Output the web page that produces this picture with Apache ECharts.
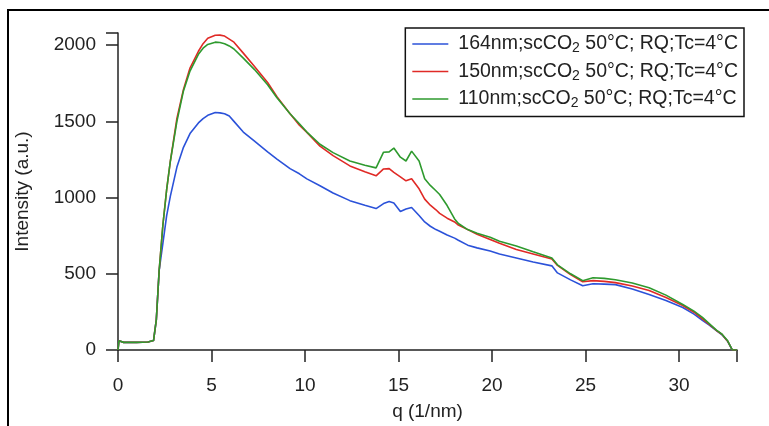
<!DOCTYPE html>
<html>
<head>
<meta charset="utf-8">
<script src="https://cdn.jsdelivr.net/npm/echarts@6/dist/echarts.min.js"></script>
<style>
  html, body { margin: 0; padding: 0; background: #fff; }
  #chart { width: 769px; height: 426px; }
</style>
</head>
<body>
<div id="chart"></div>
<script>
// q grid shared by all three curves (1/nm)
const qValues = [
  0, 0.05, 0.3, 1.0, 1.6, 1.9, 2.05, 2.2, 2.4, 2.6, 2.8, 3.15, 3.5, 3.85, 4.3, 4.55, 4.8, 5.2, 5.45, 5.7, 5.95, 6.2, 6.7,
  7.3, 8.0, 8.5, 9.2, 9.7, 10.1, 10.8, 11.5, 12.4, 13.2, 13.8, 14.2, 14.5, 14.75, 15.1, 15.4, 15.7, 16.1,
  16.4, 16.7, 17.0, 17.2, 17.6, 18.0, 18.2, 18.7, 19.2, 19.9, 20.4, 21.3, 22.2, 23.2, 23.5, 24.2, 24.85,
  25.4, 26.0, 26.6, 27.5, 28.4, 29.3, 30.2, 30.8, 31.25, 31.6, 32.0, 32.3, 32.6, 32.85, 33.1
]

const blue164 = [
  0, 60, 50, 50, 52, 62, 200, 520, 700, 880, 1010, 1200, 1330, 1420, 1490, 1518, 1540, 1558, 1556, 1550, 1535, 1500, 1430,
  1370, 1300, 1253, 1190, 1156, 1123, 1078, 1030, 980, 950, 928, 961, 974, 965, 909, 925, 935, 883,
  840, 812, 790, 779, 755, 734, 720, 688, 670, 649, 630, 604, 578, 552, 506, 460, 422,
  435, 432, 429, 400, 364, 325, 279, 235, 195, 165, 127, 100, 57, 0, 0
]

const red150 = [
  0, 60, 50, 50, 52, 62, 200, 520, 820, 1050, 1240, 1520, 1710, 1850, 1960, 2010, 2045, 2065, 2066, 2060, 2040, 2020, 1948,
  1860, 1755, 1662, 1550, 1475, 1428, 1338, 1275, 1208, 1170, 1143, 1188, 1190, 1165, 1136, 1110, 1123, 1058,
  990, 950, 920, 896, 865, 840, 820, 790, 760, 725, 700, 660, 630, 597, 555, 495, 448,
  455, 450, 442, 420, 390, 345, 292, 248, 205, 170, 128, 102, 58, 0, 0
]

const green110 = [
  0, 60, 50, 50, 52, 62, 200, 520, 820, 1050, 1240, 1500, 1700, 1830, 1940, 1980, 2005, 2020, 2018, 2010, 1995, 1975, 1915,
  1840, 1740, 1655, 1550, 1485, 1430, 1350, 1295, 1240, 1212, 1195, 1298, 1300, 1325, 1265, 1240, 1305, 1240,
  1123, 1080, 1045, 1020, 948, 860, 830, 790, 766, 740, 714, 682, 645, 604, 559, 500, 455,
  474, 470, 461, 440, 409, 360, 299, 255, 214, 175, 130, 104, 60, 0, 0
]

const seriesNames = [
  '164nm;scCO2 50°C; RQ;Tc=4°C',
  '150nm;scCO2 50°C; RQ;Tc=4°C',
  '110nm;scCO2 50°C; RQ;Tc=4°C'
]
const xTicks = [0, 5, 10, 15, 20, 25, 30]
const yTicks = [0, 500, 1000, 1500, 2000]

const colors = ['#2b52d9', '#e02a26', '#2e9a2e']
const FONT = '"Liberation Sans", Arial, sans-serif'

const zip = vals => qValues.map((q, i) => [q, vals[i]])

const chart = echarts.init(document.getElementById('chart'), null, { renderer: 'canvas' })

const makeSeries = (name, vals, color) => ({
  name,
  type: 'line',
  data: zip(vals),
  showSymbol: false,
  symbol: 'none',
  lineStyle: { color, width: 1.6 },
  itemStyle: { color },
  animation: false
})

const option = {
  backgroundColor: '#fff',
  animation: false,
  textStyle: { fontFamily: FONT },
  grid: { left: 118, right: 32, top: 33, bottom: 73, containLabel: false },
  graphic: [
    {
      type: 'polyline',
      shape: { points: [[8, 426], [8, 10], [769, 10]] },
      style: { stroke: '#000', lineWidth: 2, fill: null }
    }
  ],
  legend: {
    orient: 'vertical',
    right: 25,
    top: 28,
    padding: [6, 6, 6, 7],
    itemGap: 6,
    itemWidth: 36,
    itemHeight: 14,
    borderColor: '#111',
    borderWidth: 1.5,
    data: seriesNames,
    icon: 'path://M0,0 L36,0 L36,1.6 L0,1.6 Z',
    formatter: name => name.replace('CO2', 'CO{sub|2}'),
    textStyle: {
      fontFamily: FONT,
      fontSize: 19.5,
      color: '#222',
      lineHeight: 20,
      padding: [0, 0, 0, 5],
      rich: {
        sub: { fontFamily: FONT, fontSize: 14, color: '#222', padding: [9, 0, 0, 0] }
      }
    }
  },
  xAxis: {
    type: 'value',
    min: 0,
    max: 33.1,
    interval: 5,
    name: 'q (1/nm)',
    nameLocation: 'middle',
    nameGap: 52,
    nameTextStyle: { fontFamily: FONT, fontSize: 19, color: '#222' },
    axisLine: { onZero: false, lineStyle: { color: '#222', width: 1.5 } },
    axisTick: { show: true, length: 12, inside: false, lineStyle: { color: '#222', width: 1.5 } },
    axisLabel: {
      fontFamily: FONT, fontSize: 19, color: '#222', margin: 26,
      formatter: v => (xTicks.includes(v) ? String(v) : '')
    },
    splitLine: { show: false }
  },
  yAxis: {
    type: 'value',
    min: 0,
    max: 2080,
    interval: 500,
    name: 'Intensity (a.u.)',
    nameLocation: 'middle',
    nameGap: 86,
    nameTextStyle: { fontFamily: FONT, fontSize: 19, color: '#222' },
    axisLine: { show: true, onZero: false, lineStyle: { color: '#222', width: 1.5 } },
    axisTick: { show: true, length: 12, inside: false, lineStyle: { color: '#222', width: 1.5 } },
    axisLabel: {
      fontFamily: FONT, fontSize: 19, color: '#222', margin: 22,
      formatter: v => (yTicks.includes(v) ? String(v) : '')
    },
    splitLine: { show: false }
  },
  series: [
    makeSeries(seriesNames[0], blue164, colors[0]),
    makeSeries(seriesNames[1], red150, colors[1]),
    makeSeries(seriesNames[2], green110, colors[2])
  ]
}

chart.setOption(option)
</script>
</body>
</html>
